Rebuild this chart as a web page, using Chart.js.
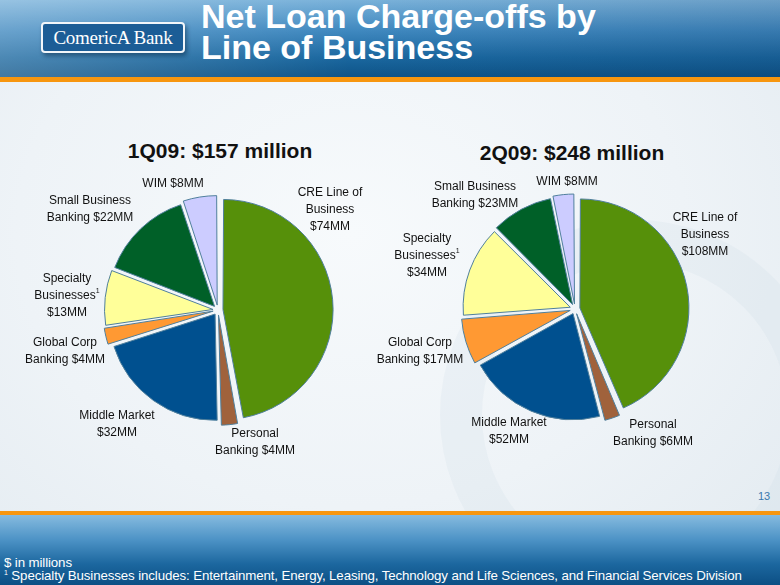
<!DOCTYPE html>
<html>
<head>
<meta charset="utf-8">
<script src="https://cdn.jsdelivr.net/npm/chart.js@4"></script>
<style>
  html, body { margin: 0; padding: 0; }
  body {
    width: 780px; height: 585px; overflow: hidden; position: relative;
    font-family: "Liberation Sans", Arial, sans-serif;
    background: radial-gradient(ellipse at 45% 40%, #f7fafc 0%, #eef3f7 55%, #e2eaf0 100%);
  }
  #header {
    position: absolute; left: 0; top: 0; width: 780px; height: 77px;
    background:
      linear-gradient(to right, rgba(255,255,255,0.22) 0%, rgba(255,255,255,0) 45%, rgba(0,20,60,0.12) 100%),
      linear-gradient(to bottom, #7ab2da 0%, #3f88bf 40%, #1a679f 75%, #0e5488 100%);
  }
  .orange { position: absolute; left: 0; width: 780px; background: #f7960f; }
  #footer {
    position: absolute; left: 0; top: 515px; width: 780px; height: 70px;
    background: linear-gradient(to bottom, #86bbdf 0%, #4d93c6 35%, #1c679f 70%, #0c4f84 100%);
  }
  #logo {
    position: absolute; left: 41px; top: 22px; width: 140px; height: 27px;
    border: 2px solid #f2f6fa; border-radius: 4px; background: #1c5d96;
    box-shadow: 2px 3px 4px rgba(0,30,60,0.45);
    color: #fff; font-family: "Liberation Serif", "DejaVu Serif", serif;
    font-size: 19px; line-height: 27px; text-align: center; letter-spacing: -0.3px;
  }
  #title {
    position: absolute; left: 201px; top: 1px; color: #fff; font-weight: bold;
    font-size: 34px; line-height: 31px; letter-spacing: 0px;
  }
  .ptitle { position: absolute; font-weight: bold; font-size: 21px; color: #111; transform: translateX(-50%); white-space: nowrap; }
  .lbl {
    position: absolute; font-size: 12px; line-height: 17px; color: #111; text-align: center;
    transform: translateX(-50%); white-space: nowrap;
  }
  .lbl sup { font-size: 7px; vertical-align: 6px; line-height: 0; }
  .chartbox { position: absolute; width: 240px; height: 240px; }
  #ring {
    position: absolute; left: 440px; top: 220px; width: 390px; height: 390px; border-radius: 50%;
    border: 42px solid rgba(200,216,228,0.18); box-sizing: border-box;
  }
  #pagenum { position: absolute; left: 758px; top: 490px; font-size: 11px; color: #3a78ad; }
  #notes { position: absolute; left: 4px; top: 556px; color: #fff; font-size: 13.3px; line-height: 13px; letter-spacing: -0.12px; }
  #notes sup { font-size: 7px; vertical-align: 5px; line-height: 0; }
</style>
</head>
<body>
<div id="ring"></div>
<div id="header"></div>
<div class="orange" style="top:77px;height:5px;"></div>
<div id="logo">ComericA Bank</div>
<div id="title">Net Loan Charge-offs by<br>Line of Business</div>

<div class="ptitle" style="left:220px;top:139px;">1Q09: $157 million</div>
<div class="ptitle" style="left:572px;top:141px;">2Q09: $248 million</div>

<div class="chartbox" style="left:98px;top:190px;"><canvas id="pie1" width="240" height="240"></canvas></div>
<div class="chartbox" style="left:455px;top:189px;"><canvas id="pie2" width="240" height="240"></canvas></div>

<div id="pagenum">13</div>
<div class="orange" style="top:511px;height:4px;"></div>
<div id="footer"></div>
<div id="notes">$ in millions<br><sup>1</sup> Specialty Businesses includes: Entertainment, Energy, Leasing, Technology and Life Sciences, and Financial Services Division</div>

<script>
// categories, clockwise from 12 o'clock
const categories = ['CRE Line of Business', 'Personal Banking', 'Middle Market', 'Global Corp Banking',
    'Specialty Businesses', 'Small Business Banking', 'WIM'];

// $ millions
const q1Values = [74, 4, 32, 4, 13, 22, 8];
const q2Values = [108, 6, 52, 17, 34, 23, 8];

// how each label is broken into lines, {v} = value
const labelLines = [
    ['CRE Line of', 'Business', '${v}MM'],
    ['Personal', 'Banking ${v}MM'],
    ['Middle Market', '${v}MM'],
    ['Global Corp', 'Banking ${v}MM'],
    ['Specialty', 'Businesses<sup>1</sup>', '${v}MM'],
    ['Small Business', 'Banking ${v}MM'],
    ['WIM ${v}MM']
];

const sliceColors = ['#56900a', '#a0623c', '#00508f', '#ff9933', '#ffff99', '#006028', '#ccccff'];

// label anchor (centre x, top y) for each slice
const labelPos1 = [[330, 184], [255, 425], [117, 407], [65, 334], [67, 270], [90, 192], [173, 175]];
const labelPos2 = [[705, 209], [653, 416], [509, 414], [420, 334], [427, 230], [475, 178], [567, 173]];

function makeLabels(values, pos) {
    values.forEach(function (v, i) {
        const d = document.createElement('div');
        d.className = 'lbl';
        d.innerHTML = labelLines[i].map(function (s) { return s.replace('{v}', v); }).join('<br>');
        d.style.left = pos[i][0] + 'px';
        d.style.top = pos[i][1] + 'px';
        document.body.appendChild(d);
    });
}

function makePie(id, values) {
    return new Chart(document.getElementById(id), {
        type: 'pie',
        data: {
            labels: categories,
            datasets: [{
                data: values,
                backgroundColor: sliceColors,
                borderColor: '#4f7f9c',
                borderWidth: 1,
                offset: 20
            }]
        },
        options: {
            responsive: false,
            animation: false,
            radius: 106,
            layout: { padding: 0 },
            plugins: { legend: { display: false }, tooltip: { enabled: false } }
        }
    });
}

makePie('pie1', q1Values);
makePie('pie2', q2Values);
makeLabels(q1Values, labelPos1);
makeLabels(q2Values, labelPos2);
</script>
</body>
</html>
